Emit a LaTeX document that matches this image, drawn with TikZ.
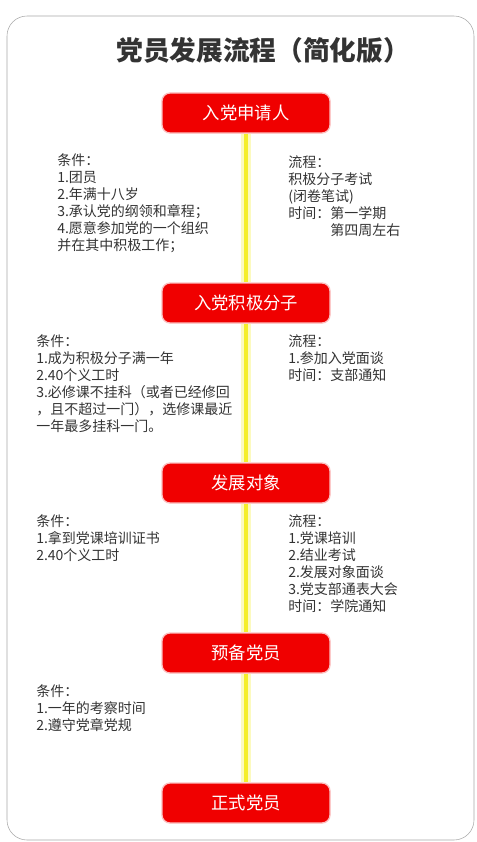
\documentclass[tikz,border=0pt]{standalone}
\usepackage{fontspec}
\newfontfamily\cjk{Noto Sans CJK SC}
\definecolor{stagered}{HTML}{F00000}
\definecolor{linkyellow}{HTML}{F5EE2A}
\definecolor{txtgray}{HTML}{333333}
\begin{document}
\begin{tikzpicture}[x=0.75pt,y=-0.75pt,
		stage/.style={fill=stagered, draw=stagered!25, line width=1pt, rounded corners=6pt, minimum width=126pt, minimum height=30pt, text=white, font=\cjk\fontsize{13}{15}\selectfont},
		note/.style={anchor=north west, align=left, inner sep=0pt, text=txtgray, font=\cjk\fontsize{10.5}{12.75}\selectfont},
		link/.style={line width=3.5pt, draw=linkyellow},
		glow/.style={line width=7pt, draw=linkyellow!30}]
		\useasboundingbox (0,0) rectangle (476,842);
		%\draw[thin, gray!25] (0,0) grid[step=50] (476,842);
		\draw[gray!70, rounded corners=15pt] (7,16) rectangle (474,840);
		\node[text=txtgray, font=\cjk\bfseries\fontsize{20}{24}\selectfont] (title) at (263,50) {党员发展流程（简化版）};
		% stages
		\node[stage] (1) at (246,113) {入党申请人};
		\node[stage] (2) at (246,303) {入党积极分子};
		\node[stage] (3) at (246,483) {发展对象};
		\node[stage] (4) at (246,653) {预备党员};
		\node[stage] (5) at (246,803) {正式党员};
		\draw[glow] (1) -- (2);
		\draw[glow] (2) -- (3);
		\draw[glow] (3) -- (4);
		\draw[glow] (4) -- (5);
		\draw[link] (1) -- (2);
		\draw[link] (2) -- (3);
		\draw[link] (3) -- (4);
		\draw[link] (4) -- (5);
		% conditions and steps
		\node[note] (c1) at (57,153) {条件：\\1.团员\\2.年满十八岁\\3.承认党的纲领和章程；\\4.愿意参加党的一个组织\\并在其中积极工作；};
		\node[note] (p1) at (288,155) {流程：\\积极分子考试\\(闭卷笔试)\\时间：第一学期\\\hphantom{时间：}第四周左右};
		\node[note] (c2) at (36,334) {条件：\\1.成为积极分子满一年\\2.40个义工时\\3.必修课不挂科（或者已经修回\\，且不超过一门），选修课最近\\一年最多挂科一门。};
		\node[note] (p2) at (288,334) {流程：\\1.参加入党面谈\\时间：支部通知};
		\node[note] (c3) at (36,514) {条件：\\1.拿到党课培训证书\\2.40个义工时};
		\node[note] (p3) at (288,514) {流程：\\1.党课培训\\2.结业考试\\2.发展对象面谈\\3.党支部通表大会\\时间：学院通知};
		\node[note] (c4) at (36,684) {条件：\\1.一年的考察时间\\2.遵守党章党规};
	\end{tikzpicture}
\end{document}
